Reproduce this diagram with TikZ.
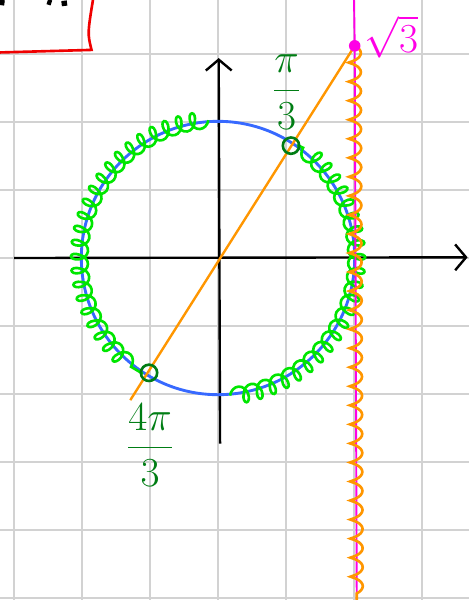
\documentclass[tikz,border=0pt]{standalone}
\usetikzlibrary{decorations.pathmorphing,arrows.meta}
\definecolor{penblue}{RGB}{55,105,255}
\definecolor{pengreen}{RGB}{0,230,0}
\definecolor{darkgreen}{RGB}{0,125,20}
\definecolor{penorange}{RGB}{255,150,0}
\definecolor{penpink}{RGB}{255,0,230}
\definecolor{penred}{RGB}{240,0,0}
\tikzset{greencoil/.style={pengreen,line width=1.1pt,decorate,decoration={coil,aspect=0.7,segment length=2mm,amplitude=1.2mm}}}
\begin{document}
\begin{tikzpicture}[scale=1.0]
\useasboundingbox (-3.206,-5.029) rectangle (3.691,3.794);
\draw[gray!35,line width=0.8pt] (-3.206,-5.029) grid (3.691,3.794);
\draw[penred,line width=1.1pt] (-3.3,3.02) -- (-1.86,3.06) .. controls (-1.92,3.3) .. (-1.83,3.85);
\draw[line width=2.2pt] (-3.21,3.76) -- (-3.14,3.75);
\draw[line width=2.2pt] (-2.51,3.77) -- (-2.45,3.75);
\draw[line width=2.2pt] (-2.3,3.74) -- (-2.22,3.75);
\draw[line width=1pt,-{Straight Barb[length=1.6mm,width=3.8mm]}] (-3.0,0) -- (3.67,0.01);
\draw[line width=1pt,-{Straight Barb[length=1.6mm,width=3.8mm]}] (0.03,-2.73) -- (0.01,2.94);
\coordinate (P) at (2.01,3.12);
\coordinate (Q) at (-1.29,-2.09);
\coordinate (A) at (57:1.97);
\coordinate (B) at (239:1.97);
\draw[penblue,line width=1.2pt] (0,0) circle (2.01);
\draw[greencoil] (94:2.03) arc (94:237:2.03);
\draw[greencoil] (-85:2.03) arc (-85:55:2.03);
\draw[penorange,line width=1pt] (P) -- (Q);
\draw[penpink,line width=0.8pt] (2.0,3.8) -- (P) -- (2.04,-5.03);
\draw[penorange,line width=1.1pt,decorate,decoration={coil,aspect=0.4,segment length=2.8mm,amplitude=0.9mm}] (P) -- (2.04,-5.1);
\fill[penpink] (P) circle (0.085);
\draw[darkgreen,line width=1.1pt] (A) circle (0.12);
\draw[darkgreen,line width=1.1pt] (B) circle (0.12);
\node[darkgreen] (third) at (1.01,2.44) {\LARGE$\displaystyle\frac{\pi}{3}$};
\node[darkgreen] (fourthird) at (-1.0,-2.75) {\LARGE$\displaystyle\frac{4\pi}{3}$};
\node[penpink,inner sep=1pt] (root) at (2.55,3.25) {\LARGE$\sqrt{3}$};
\end{tikzpicture}
\end{document}
